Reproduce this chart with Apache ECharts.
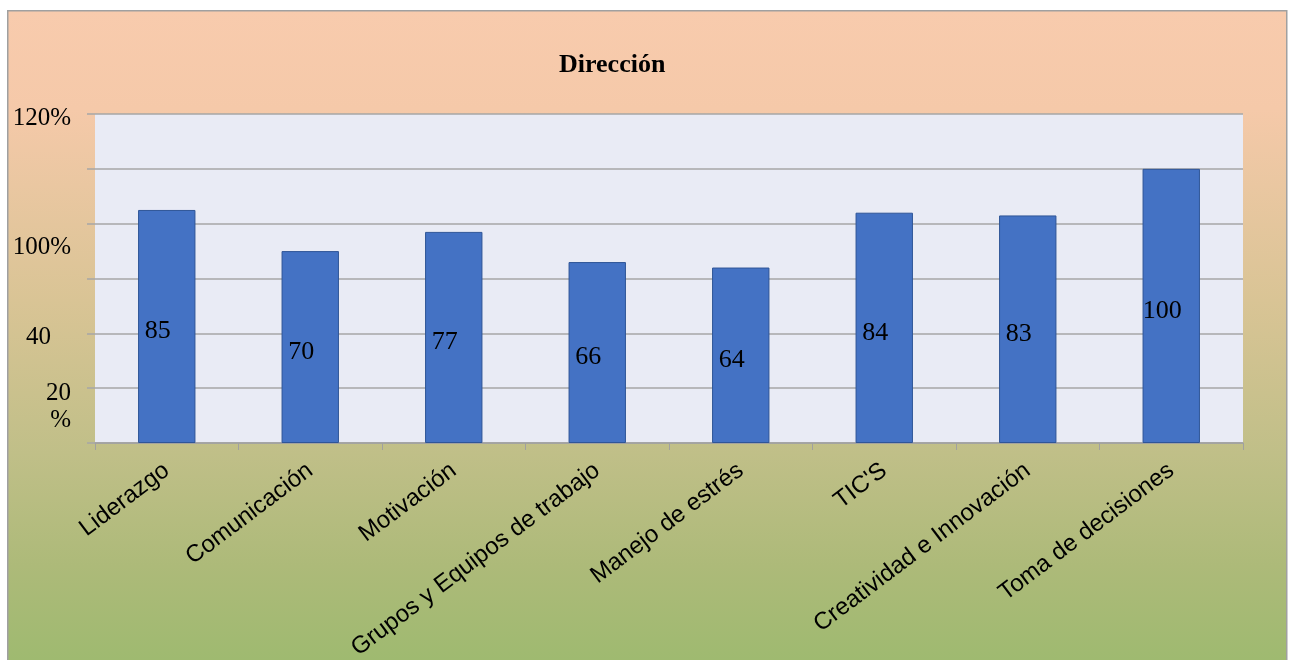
<!DOCTYPE html>
<html>
<head>
<meta charset="utf-8">
<style>
  html, body { margin: 0; padding: 0; background: #ffffff; }
  #chart { width: 1289px; height: 660px; }
</style>
<script src="https://cdn.jsdelivr.net/npm/echarts@6/dist/echarts.min.js"></script>
</head>
<body>
<div id="chart"></div>
<script>
// Competencias del área de Dirección
const titulo = 'Dirección';
const categorias = [
  'Liderazgo',
  'Comunicación',
  'Motivación',
  'Grupos y Equipos de trabajo',
  'Manejo de estrés',
  "TIC'S",
  'Creatividad e Innovación',
  'Toma de decisiones'
];
const valores = [85, 70, 77, 66, 64, 84, 83, 100];

// Eje vertical: valores de las marcas y su texto
const yTickValues = [0, 20, 40, 60, 80, 100, 120];
const yTickText = ['', '20\n%', '40', '', '100%', '', '120%'];

const serif = '"Liberation Serif", "Times New Roman", serif';
const sans = '"Liberation Sans", Arial, sans-serif';

// Each tick text gets its own rich style (the labels sit at irregular offsets)
const richKeys = ['n', 'd', 'c', 'n', 'b', 'n', 'a'];

function yLabel(value) {
  const i = yTickValues.indexOf(value);
  if (i < 0 || !yTickText[i]) return '';
  const key = richKeys[i];
  const lines = yTickText[i].split('\n').map(function (t) { return '{' + key + '|' + t + '}'; });
  // two-line labels hang below their tick: a spacer line above pushes them down
  if (lines.length > 1) lines.unshift('{s| }');
  return lines.join('\n');
}

const chart = echarts.init(document.getElementById('chart'), null, { renderer: 'canvas' });

const labelBase = { fontFamily: serif, fontSize: 25, color: '#000000' };

chart.setOption({
  backgroundColor: '#ffffff',
  animation: false,
  graphic: [{
    type: 'rect',
    left: 7,
    top: 10,
    z: -10,
    shape: { width: 1279, height: 660 },
    style: {
      fill: new echarts.graphic.LinearGradient(0, 0, 0, 1, [
        { offset: 0.0, color: '#f8cbad' },
        { offset: 0.15, color: '#f5c9a9' },
        { offset: 0.44, color: '#d9c495' },
        { offset: 0.67, color: '#c0bf88' },
        { offset: 0.84, color: '#adba79' },
        { offset: 1.0, color: '#9dba6f' }
      ]),
      stroke: '#a0a0a0',
      lineWidth: 1.5
    },
    silent: true
  }],
  title: {
    text: titulo,
    left: 554,
    top: 47,
    textStyle: {
      fontFamily: serif,
      fontWeight: 'bold',
      fontSize: 26,
      color: '#000000'
    }
  },
  grid: {
    left: 95,
    right: 46,
    top: 114,
    bottom: 217,
    show: true,
    backgroundColor: '#e9ebf5',
    borderWidth: 0,
    containLabel: false,
    outerBoundsMode: 'none'
  },
  xAxis: {
    type: 'category',
    data: categorias,
    axisLine: { show: true, lineStyle: { color: '#a0a0a0', width: 1.5 } },
    axisTick: { show: true, alignWithLabel: false, length: 7, lineStyle: { color: '#a0a0a0', width: 1 } },
    axisLabel: {
      interval: 0,
      rotate: 37,
      margin: 25,
      fontFamily: sans,
      fontSize: 24,
      color: '#000000'
    }
  },
  yAxis: {
    type: 'value',
    min: 0,
    max: 120,
    interval: 20,
    axisLine: { show: false },
    axisTick: { show: true, length: 8, lineStyle: { color: '#a6a6a6', width: 1.5 } },
    splitLine: { show: true, lineStyle: { color: '#a6a6a6', width: 1.5 } },
    axisLabel: {
      margin: 24,
      align: 'right',
      formatter: yLabel,
      rich: {
        n: Object.assign({}, labelBase),
        a: Object.assign({ padding: [8, 0, 0, 0] }, labelBase),
        b: Object.assign({ padding: [48, 0, 0, 0] }, labelBase),
        c: Object.assign({ padding: [8, 20, 0, 0] }, labelBase),
        d: Object.assign({ lineHeight: 27 }, labelBase),
        s: { fontSize: 10, lineHeight: 37 }
      }
    }
  },
  series: [{
    type: 'bar',
    data: valores,
    barWidth: '40%',
    itemStyle: {
      color: '#4472c4',
      borderColor: '#2f5597',
      borderWidth: 1
    },
    label: {
      show: true,
      position: 'inside',
      offset: [-9, 5],
      fontFamily: serif,
      fontSize: 26,
      color: '#000000'
    }
  }]
});
</script>
</body>
</html>
